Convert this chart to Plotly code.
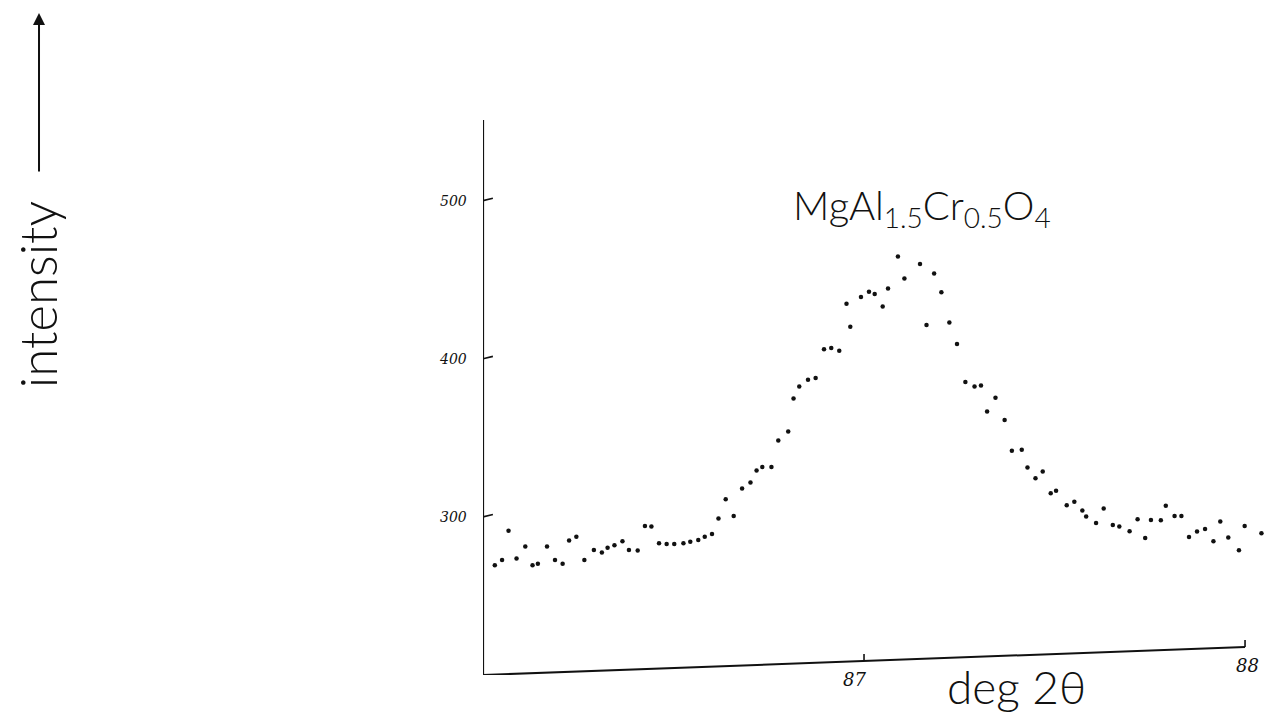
import plotly.graph_objects as go

# 2-theta positions (deg)
two_theta = [
    86.031, 86.050, 86.067, 86.088, 86.111, 86.130, 86.144, 86.168, 86.189, 86.209,
    86.226, 86.245, 86.266, 86.291, 86.312, 86.327, 86.345, 86.366, 86.383, 86.406,
    86.425, 86.442, 86.462, 86.482, 86.502, 86.526, 86.544, 86.565, 86.582, 86.601,
    86.618, 86.637, 86.658, 86.680, 86.702, 86.718, 86.733, 86.757, 86.775, 86.801,
    86.815, 86.830, 86.853, 86.873, 86.895, 86.914, 86.935, 86.954, 86.964, 86.992,
    87.013, 87.028, 87.049, 87.063, 87.089, 87.106, 87.147, 87.164, 87.184, 87.203,
    87.224, 87.244, 87.266, 87.290, 87.307, 87.323, 87.345, 87.369, 87.388, 87.414,
    87.429, 87.450, 87.469, 87.490, 87.504, 87.532, 87.552, 87.573, 87.583, 87.609,
    87.629, 87.653, 87.670, 87.697, 87.718, 87.738, 87.753, 87.779, 87.792, 87.815,
    87.833, 87.853, 87.874, 87.895, 87.917, 87.935, 87.956, 87.984, 87.999, 88.043,
]

# intensity (counts)
intensity = [
    269.4, 272.8, 291.3, 273.6, 281.2, 269.4, 270.3, 281.2, 272.8, 270.3,
    285.0, 287.5, 272.8, 279.1, 277.4, 280.4, 282.1, 284.6, 279.1, 278.7,
    294.3, 293.9, 283.4, 282.9, 282.9, 283.4, 284.2, 285.4, 287.5, 289.2,
    298.9, 311.2, 300.6, 317.9, 321.7, 329.3, 331.6, 331.5, 348.3, 354.0,
    374.9, 382.5, 386.7, 387.8, 406.0, 406.8, 405.1, 434.8, 420.3, 439.1,
    442.4, 441.0, 433.1, 444.5, 464.7, 450.8, 459.9, 421.3, 454.0, 442.0,
    423.0, 409.3, 385.3, 382.5, 383.1, 366.6, 375.3, 361.2, 341.8, 342.4,
    331.2, 324.5, 328.7, 314.9, 316.6, 307.4, 309.5, 304.0, 300.2, 296.2,
    305.3, 294.9, 293.9, 290.9, 298.5, 286.7, 298.1, 297.9, 307.0, 300.6,
    300.6, 287.3, 290.7, 292.4, 284.6, 297.0, 286.9, 278.9, 294.3, 289.7,
]

y_ticks = [300, 400, 500]
y_tick_labels = ["300", "400", "500"]
x_ticks = [87, 88]
x_tick_labels = ["87", "88"]

X0, X1 = 86.0, 88.076
Y0, Y1 = 200.0, 551.0
X_END = 88.0
Y_END_RIGHT = 217.7  # hand-drawn x axis rises slightly to the right

INK = "#111111"
FONT = "Lato"

fig = go.Figure()
fig.add_trace(go.Scatter(
    x=two_theta, y=intensity, mode="markers",
    marker=dict(color=INK, size=4.5, symbol="circle"),
    showlegend=False, hoverinfo="skip", cliponaxis=False,
))

def axis_y_at(xv):
    return Y0 + (Y_END_RIGHT - Y0) * (xv - X0) / (X_END - X0)

shapes = []
# y axis
shapes.append(dict(type="line", xref="x", yref="y", x0=X0, y0=Y0, x1=X0, y1=Y1,
                   line=dict(color=INK, width=2.2)))
# x axis (slightly sloped, as drawn)
shapes.append(dict(type="line", xref="x", yref="y", x0=X0, y0=Y0, x1=X_END, y1=Y_END_RIGHT,
                   line=dict(color=INK, width=2)))
# y ticks: small hooks to the right
for v in y_ticks:
    shapes.append(dict(type="line", xref="x", yref="y", x0=X0, y0=v, x1=X0 + 0.026, y1=v + 1.5,
                       line=dict(color=INK, width=1.6)))
# x ticks: short upward marks
for v in x_ticks:
    yb = axis_y_at(v)
    shapes.append(dict(type="line", xref="x", yref="y", x0=v, y0=yb, x1=v, y1=yb + 4.5,
                       line=dict(color=INK, width=1.6)))

annotations = []
for v, t in zip(y_ticks, y_tick_labels):
    annotations.append(dict(x=X0, y=v, xref="x", yref="y", text=t, showarrow=False,
                            xanchor="right", yanchor="middle", xshift=-14,
                            font=dict(family="DejaVu Serif", size=14, color=INK, style="italic")))
for v, t in zip(x_ticks, x_tick_labels):
    annotations.append(dict(x=v, y=axis_y_at(v), xref="x", yref="y", text=t, showarrow=False,
                            xanchor="center", yanchor="top", xshift=-10 if v == 87 else 2, yshift=-6,
                            font=dict(family="DejaVu Serif", size=18, color=INK, style="italic")))

# compound label near the peak
annotations.append(dict(x=0.555, y=0.842, xref="paper", yref="paper",
                        text="MgAl<sub>1.5</sub>Cr<sub>0.5</sub>O<sub>4</sub>",
                        showarrow=False, xanchor="center", yanchor="middle",
                        font=dict(family=FONT, size=40, color=INK, weight=300)))
# x axis title
annotations.append(dict(x=0.675, y=-0.02, xref="paper", yref="paper", text="deg 2θ",
                        showarrow=False, xanchor="center", yanchor="middle",
                        font=dict(family=FONT, size=46, color=INK, weight=300)))
# y axis title, rotated, with upward arrow
annotations.append(dict(x=-0.564, y=0.686, xref="paper", yref="paper", text="intensity",
                        showarrow=False, textangle=-90, xanchor="center", yanchor="middle",
                        font=dict(family=FONT, size=51, color=INK, weight=300)))
annotations.append(dict(x=-0.5613, y=1.193, xref="paper", yref="paper", text="",
                        showarrow=True, ax=0, ay=160, arrowhead=2, arrowsize=1.2,
                        arrowwidth=2, arrowcolor=INK))

# the page body has an 8px margin, so the figure is sized to the visible area
fig.update_layout(
    width=1266, height=713,
    margin=dict(l=475, r=0, t=112, b=46),
    paper_bgcolor="white", plot_bgcolor="white",
    xaxis=dict(range=[X0, X1], visible=False),
    yaxis=dict(range=[Y0, Y1], visible=False),
    shapes=shapes, annotations=annotations,
    showlegend=False,
)

fig.write_html("out.html")
